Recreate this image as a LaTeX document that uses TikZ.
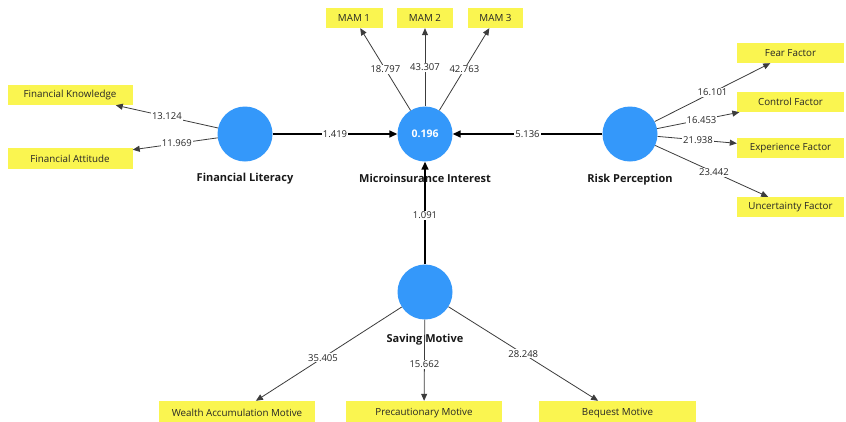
\documentclass[tikz,border=0pt]{standalone}
\usepackage{fontspec}
\setmainfont{Open Sans}
\usetikzlibrary{arrows.meta}
\definecolor{lvblue}{RGB}{52,152,250}
\definecolor{indyellow}{RGB}{250,245,80}
\definecolor{linegray}{RGB}{60,60,60}
\begin{document}
\begin{tikzpicture}[x=1pt,y=-1pt,
  lv/.style={circle,fill=lvblue,minimum size=55pt,inner sep=0pt},
  ind/.style={fill=indyellow,inner sep=0pt,minimum height=20pt,font=\fontsize{9.8}{11}\selectfont,text=black!85},
  lvname/.style={font=\bfseries\fontsize{11}{13}\selectfont,text=black!90},
  meas/.style={draw=linegray,line width=0.8pt,-{Triangle[length=7pt,width=6pt]}},
  struct/.style={draw=black,line width=1.5pt,-{Triangle[length=8pt,width=7pt]}},
  lbl/.style={fill=white,inner sep=1pt,font=\fontsize{9.5}{11}\selectfont,text=black!85}]
\useasboundingbox[fill=white] (0,0) rectangle (846,421);

% latent variables
\node[lv] (FL) at (245,134) {};
\node[lv,font=\bfseries\fontsize{10.5}{12}\selectfont,text=white] (MI) at (425,134) {0.196};
\node[lv] (RP) at (630,134) {};
\node[lv] (SM) at (425,292) {};
\node[lvname] (FLn) at (245,179) {Financial Literacy};
\node[lvname] (MIn) at (425,178) {Microinsurance Interest};
\node[lvname] (RPn) at (630,180) {Risk Perception};
\node[lvname] (SMn) at (425,340) {Saving Motive};

% indicators
\node[ind,minimum width=125pt] (FK) at (70,95) {Financial Knowledge};
\node[ind,minimum width=125pt,minimum height=21pt] (FA) at (70,158.5) {Financial Attitude};
\node[ind,minimum width=57pt] (M1) at (354,18) {MAM 1};
\node[ind,minimum width=56pt] (M2) at (425,18) {MAM 2};
\node[ind,minimum width=55pt] (M3) at (495.5,18) {MAM 3};
\node[ind,minimum width=107pt] (FF) at (790.5,53) {Fear Factor};
\node[ind,minimum width=107pt] (CF) at (790.5,102) {Control Factor};
\node[ind,minimum width=107pt] (EF) at (790.5,148) {Experience Factor};
\node[ind,minimum width=107pt] (UF) at (790.5,207) {Uncertainty Factor};
\node[ind,minimum width=156pt,minimum height=24pt] (WA) at (237,413) {Wealth Accumulation Motive};
\node[ind,minimum width=156pt,minimum height=24pt] (PM) at (424,413) {Precautionary Motive};
\node[ind,minimum width=157pt,minimum height=24pt] (BM) at (617.5,413) {Bequest Motive};

% structural paths
\draw[struct] (FL) -- node[lbl,pos=0.5] {1.419} (MI);
\draw[struct] (RP) -- node[lbl,pos=0.5] {5.136} (MI);
\draw[struct] (SM) -- node[lbl,pos=0.48] {1.091} (MI);

% measurement paths
\draw[meas] (FL) -- node[lbl,pos=0.5] {13.124} (FK);
\draw[meas] (FL) -- node[lbl,pos=0.48] {11.969} (FA);
\draw[meas] (MI) -- node[lbl,pos=0.5] {18.797} (M1);
\draw[meas] (MI) -- node[lbl,pos=0.5] {43.307} (M2);
\draw[meas] (MI) -- node[lbl,pos=0.5] {42.763} (M3);
\draw[meas] (RP) -- node[lbl,pos=0.5] {16.101} (FF);
\draw[meas] (RP) -- node[lbl,pos=0.54] {16.453} (CF);
\draw[meas] (RP) -- node[lbl,pos=0.51] {21.938} (EF);
\draw[meas] (RP) -- node[lbl,pos=0.52] {23.442} (UF);
\draw[meas] (SM) -- node[lbl,pos=0.54] {35.405} (WA);
\draw[meas] (SM) -- node[lbl,pos=0.55] {15.662} (PM);
\draw[meas] (SM) -- node[lbl,pos=0.5] {28.248} (BM);
\end{tikzpicture}
\end{document}
